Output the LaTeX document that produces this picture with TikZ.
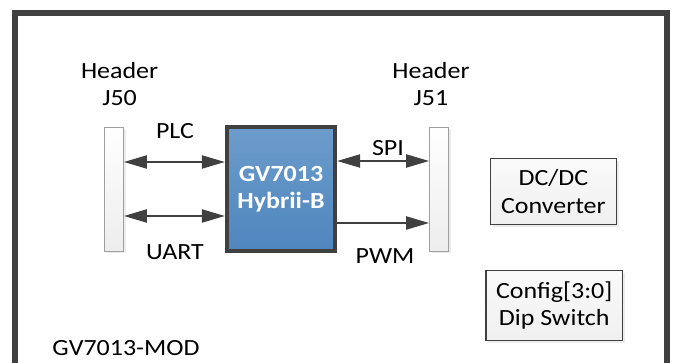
\documentclass[tikz,border=0pt]{standalone}
\usepackage{fontspec}
\setmainfont[FakeStretch=1.12]{Carlito}
\usepackage{tikz}
\usetikzlibrary{calc}
\usetikzlibrary{positioning}
\usetikzlibrary{arrows.meta}
\usetikzlibrary{shadows}
\definecolor{lineGray}{HTML}{404040}
\definecolor{chipTop}{HTML}{6C9CCB}
\definecolor{chipBot}{HTML}{4F86BE}
\newcommand{\lblfont}{\fontsize{16.5pt}{19.5pt}\selectfont}
\tikzstyle{hdrnode} = [draw=gray!75, top color=white, bottom color=gray!14, minimum width=0.48cm, minimum height=3.1cm, inner sep=0, drop shadow={opacity=0.15, shadow xshift=1.5pt, shadow yshift=-1.5pt}]
\tikzstyle{chipnode} = [draw=lineGray, line width=3pt, top color=chipTop, bottom color=chipBot, minimum width=2.7cm, minimum height=3.1cm, text=white, font=\lblfont\bfseries, align=center]
\tikzstyle{boxnode} = [draw=lineGray, line width=1pt, top color=gray!4, bottom color=gray!12, align=center, font=\lblfont, inner sep=0, drop shadow={opacity=0.15, shadow xshift=1.5pt, shadow yshift=-1.5pt}]
\tikzstyle{lblnode} = [align=center, font=\lblfont, inner sep=0]
\tikzstyle{sigline} = [draw=lineGray, line width=1.5pt]

\begin{document}
\begin{tikzpicture}
    \useasboundingbox (-7.025,4.725) rectangle (9.8,-4.35);
    \draw[lineGray, line width=4.3pt] (-6.66,4.4) rectangle (9.65,-4.8);
    \node[chipnode] (gv_chip) at (0,0) {GV7013\\Hybrii-B};
    \node[hdrnode] (j50_bar) at ($(gv_chip)+(-4.175,0)$) {};
    \node[hdrnode] (j51_bar) at ($(gv_chip)+(3.95,0)$) {};
    \node[lblnode] (j50_lbl) at ($(j50_bar)+(0.14,2.62)$) {Header\\J50};
    \node[lblnode] (j51_lbl) at ($(j51_bar)+(-0.2,2.62)$) {Header\\J51};
    \node[boxnode, minimum width=3.15cm, minimum height=1.65cm] (dcdc_box) at ($(gv_chip)+(6.81,-0.06)$) {DC/DC\\Converter};
    \node[boxnode, minimum width=3.42cm, minimum height=1.75cm] (cfg_box) at ($(gv_chip)+(6.83,-2.91)$) {Config[3:0]\\Dip Switch};
    \node[lblnode] (plc_lbl) at ($(gv_chip)+(-2.65,1.45)$) {PLC};
    \node[lblnode] (uart_lbl) at ($(gv_chip)+(-2.65,-1.575)$) {UART};
    \node[lblnode] (spi_lbl) at ($(gv_chip)+(2.675,1.025)$) {SPI};
    \node[lblnode] (pwm_lbl) at ($(gv_chip)+(2.6,-1.675)$) {PWM};
    \node[lblnode] (mod_lbl) at ($(gv_chip)+(-3.875,-3.975)$) {GV7013-MOD};
    \draw[sigline, {Triangle[length=5.75mm,width=3.25mm]}-{Triangle[length=5.75mm,width=3.25mm]}] ($(j50_bar.east)+(0,0.675)$) -- ($(gv_chip.west)+(0,0.675)$);
    \draw[sigline, {Triangle[length=5.75mm,width=3.25mm]}-{Triangle[length=5.75mm,width=3.25mm]}] ($(j50_bar.east)+(0,-0.675)$) -- ($(gv_chip.west)+(0,-0.675)$);
    \draw[sigline, {Triangle[length=5.75mm,width=3.25mm]}-{Triangle[length=5.75mm,width=3.25mm]}] ($(gv_chip.east)+(0,0.7)$) -- ($(j51_bar.west)+(0,0.7)$);
    \draw[sigline, -{Triangle[length=5.75mm,width=3.25mm]}] ($(gv_chip.east)+(0,-0.85)$) -- ($(j51_bar.west)+(0,-0.85)$);
\end{tikzpicture}
\end{document}
